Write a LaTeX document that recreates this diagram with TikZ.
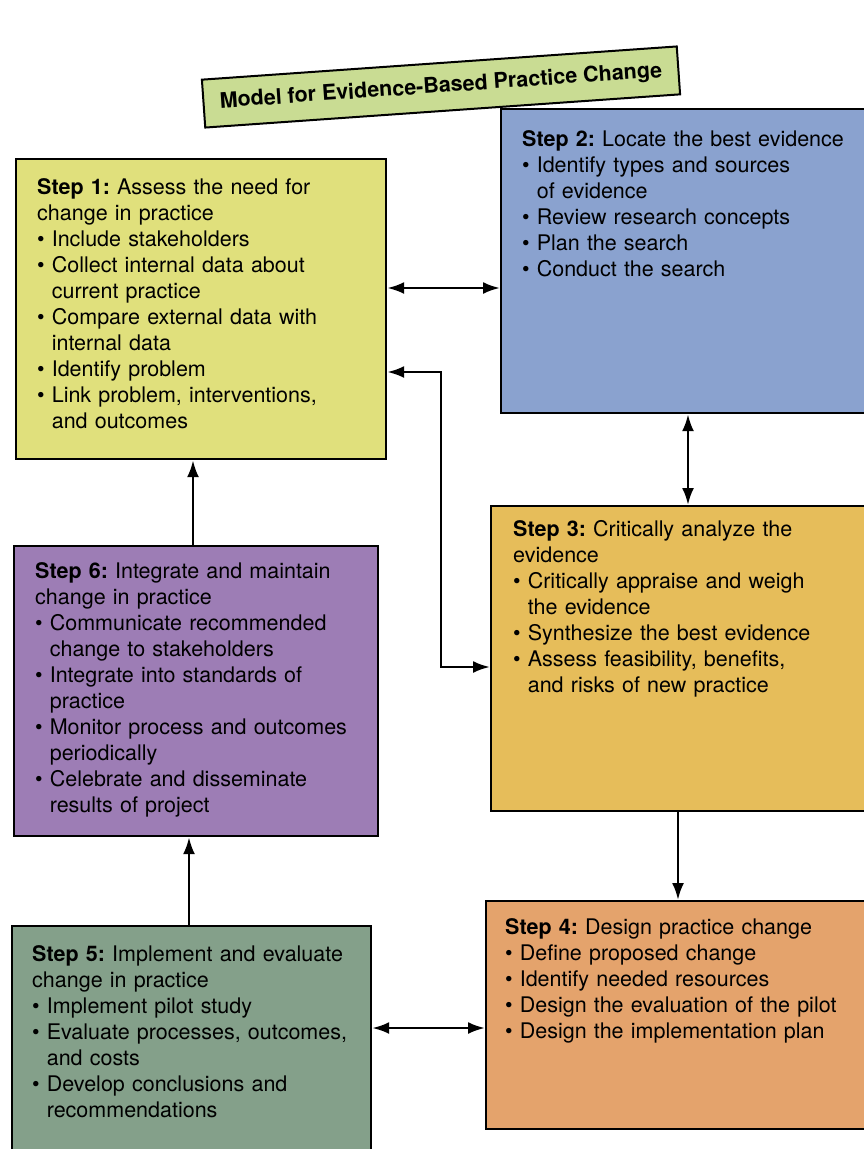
\documentclass[tikz,border=0pt]{standalone}
\usepackage{fontspec}
\setmainfont{TeX Gyre Heros}
\usetikzlibrary{positioning,arrows.meta}

\definecolor{titlegreen}{HTML}{C9DC93}
\definecolor{stepone}{HTML}{E0E07C}
\definecolor{steptwo}{HTML}{8AA2CF}
\definecolor{stepthree}{HTML}{E6BD5A}
\definecolor{stepfour}{HTML}{E4A36C}
\definecolor{stepfive}{HTML}{84A08A}
\definecolor{stepsix}{HTML}{9D7DB5}

% bullet line with hanging indent
\newcommand{\bul}{\par\noindent\hangindent=0.68em\hangafter=1\makebox[0.68em][l]{\textbullet}}

\begin{document}
\frenchspacing
\begin{tikzpicture}[x=1pt,y=-1pt,
    stepbox/.style={shape=rectangle,draw=black,line width=2.2pt,anchor=north west,inner sep=0pt},
    steptext/.style={anchor=north west,inner sep=0pt,text width=#1,
      font=\fontsize{21.5}{26}\selectfont\raggedright},
    titlebox/.style={shape=rectangle,draw=black,line width=2pt,fill=titlegreen,
      minimum width=476pt,minimum height=48pt,font=\bfseries\fontsize{21.5}{26}\selectfont},
    >={Latex[length=17pt,width=12pt]}]
  \useasboundingbox (0,0) rectangle (864,1149);
  \clip (0,0) rectangle (864,1149);

  \node[titlebox,rotate=4] (title) at (441,87) {Model for Evidence-Based Practice Change};

  % boxes
  \node[stepbox,fill=stepone,minimum width=370pt,minimum height=300pt] (s1) at (15,158) {};
  \node[stepbox,fill=steptwo,minimum width=380pt,minimum height=304pt] (s2) at (500,108) {};
  \node[stepbox,fill=stepthree,minimum width=390pt,minimum height=305pt] (s3) at (490,505) {};
  \node[stepbox,fill=stepfour,minimum width=395pt,minimum height=228pt] (s4) at (485,900) {};
  \node[stepbox,fill=stepfive,minimum width=359pt,minimum height=230pt] (s5) at (11,925) {};
  \node[stepbox,fill=stepsix,minimum width=364pt,minimum height=290pt] (s6) at (13,545) {};

  % texts
  \node[steptext=330pt,below right=20pt and 22pt of s1.north west] (t1) {\noindent
    \textbf{Step 1:} Assess the need for\newline change in practice
    \bul Include stakeholders
    \bul Collect internal data about\newline current practice
    \bul Compare external data with\newline internal data
    \bul Identify problem
    \bul Link problem, interventions,\newline and outcomes\par};
  \node[steptext=340pt,below right=22pt and 22pt of s2.north west] (t2) {\noindent
    \textbf{Step 2:} Locate the best evidence
    \bul Identify types and sources\newline of evidence
    \bul Review research concepts
    \bul Plan the search
    \bul Conduct the search\par};
  \node[steptext=350pt,below right=15pt and 23pt of s3.north west] (t3) {\noindent
    \textbf{Step 3:} Critically analyze the\newline evidence
    \bul Critically appraise and weigh\newline the evidence
    \bul Synthesize the best evidence
    \bul Assess feasibility, benefits,\newline and risks of new practice\par};
  \node[steptext=355pt,below right=18pt and 20pt of s4.north west] (t4) {\noindent
    \textbf{Step 4:} Design practice change
    \bul Define proposed change
    \bul Identify needed resources
    \bul Design the evaluation of the pilot
    \bul Design the implementation plan\par};
  \node[steptext=330pt,below right=20pt and 21pt of s5.north west] (t5) {\noindent
    \textbf{Step 5:} Implement and evaluate\newline change in practice
    \bul Implement pilot study
    \bul Evaluate processes, outcomes,\newline and costs
    \bul Develop conclusions and\newline recommendations\par};
  \node[steptext=330pt,below right=17pt and 22pt of s6.north west] (t6) {\noindent
    \textbf{Step 6:} Integrate and maintain\newline change in practice
    \bul Communicate recommended\newline change to stakeholders
    \bul Integrate into standards of\newline practice
    \bul Monitor process and outcomes\newline periodically
    \bul Celebrate and disseminate\newline results of project\par};

  % connectors
  \coordinate (c12) at (0,288);
  \coordinate (k1) at (441,372);
  \coordinate (k2) at (441,667);
  \coordinate (c23) at (688,0);
  \coordinate (c34) at (678,0);
  \coordinate (c45) at (0,1028);
  \coordinate (c56) at (189,0);
  \coordinate (c61) at (193,0);
  \begin{scope}[line width=2.6pt]
    \path [<->] (s1.east |- c12) edge (s2.west |- c12);
    \draw [<->] (s1.east |- k1) -- (k1) -- (k2) -- (s3.west |- k2);
    \path [<->] (s2.south -| c23) edge (s3.north -| c23);
    \path [->] (s3.south -| c34) edge (s4.north -| c34);
    \path [<->] (s5.east |- c45) edge (s4.west |- c45);
    \path [->] (s5.north -| c56) edge (s6.south -| c56);
    \path [->] (s6.north -| c61) edge (s1.south -| c61);
  \end{scope}
\end{tikzpicture}
\end{document}
